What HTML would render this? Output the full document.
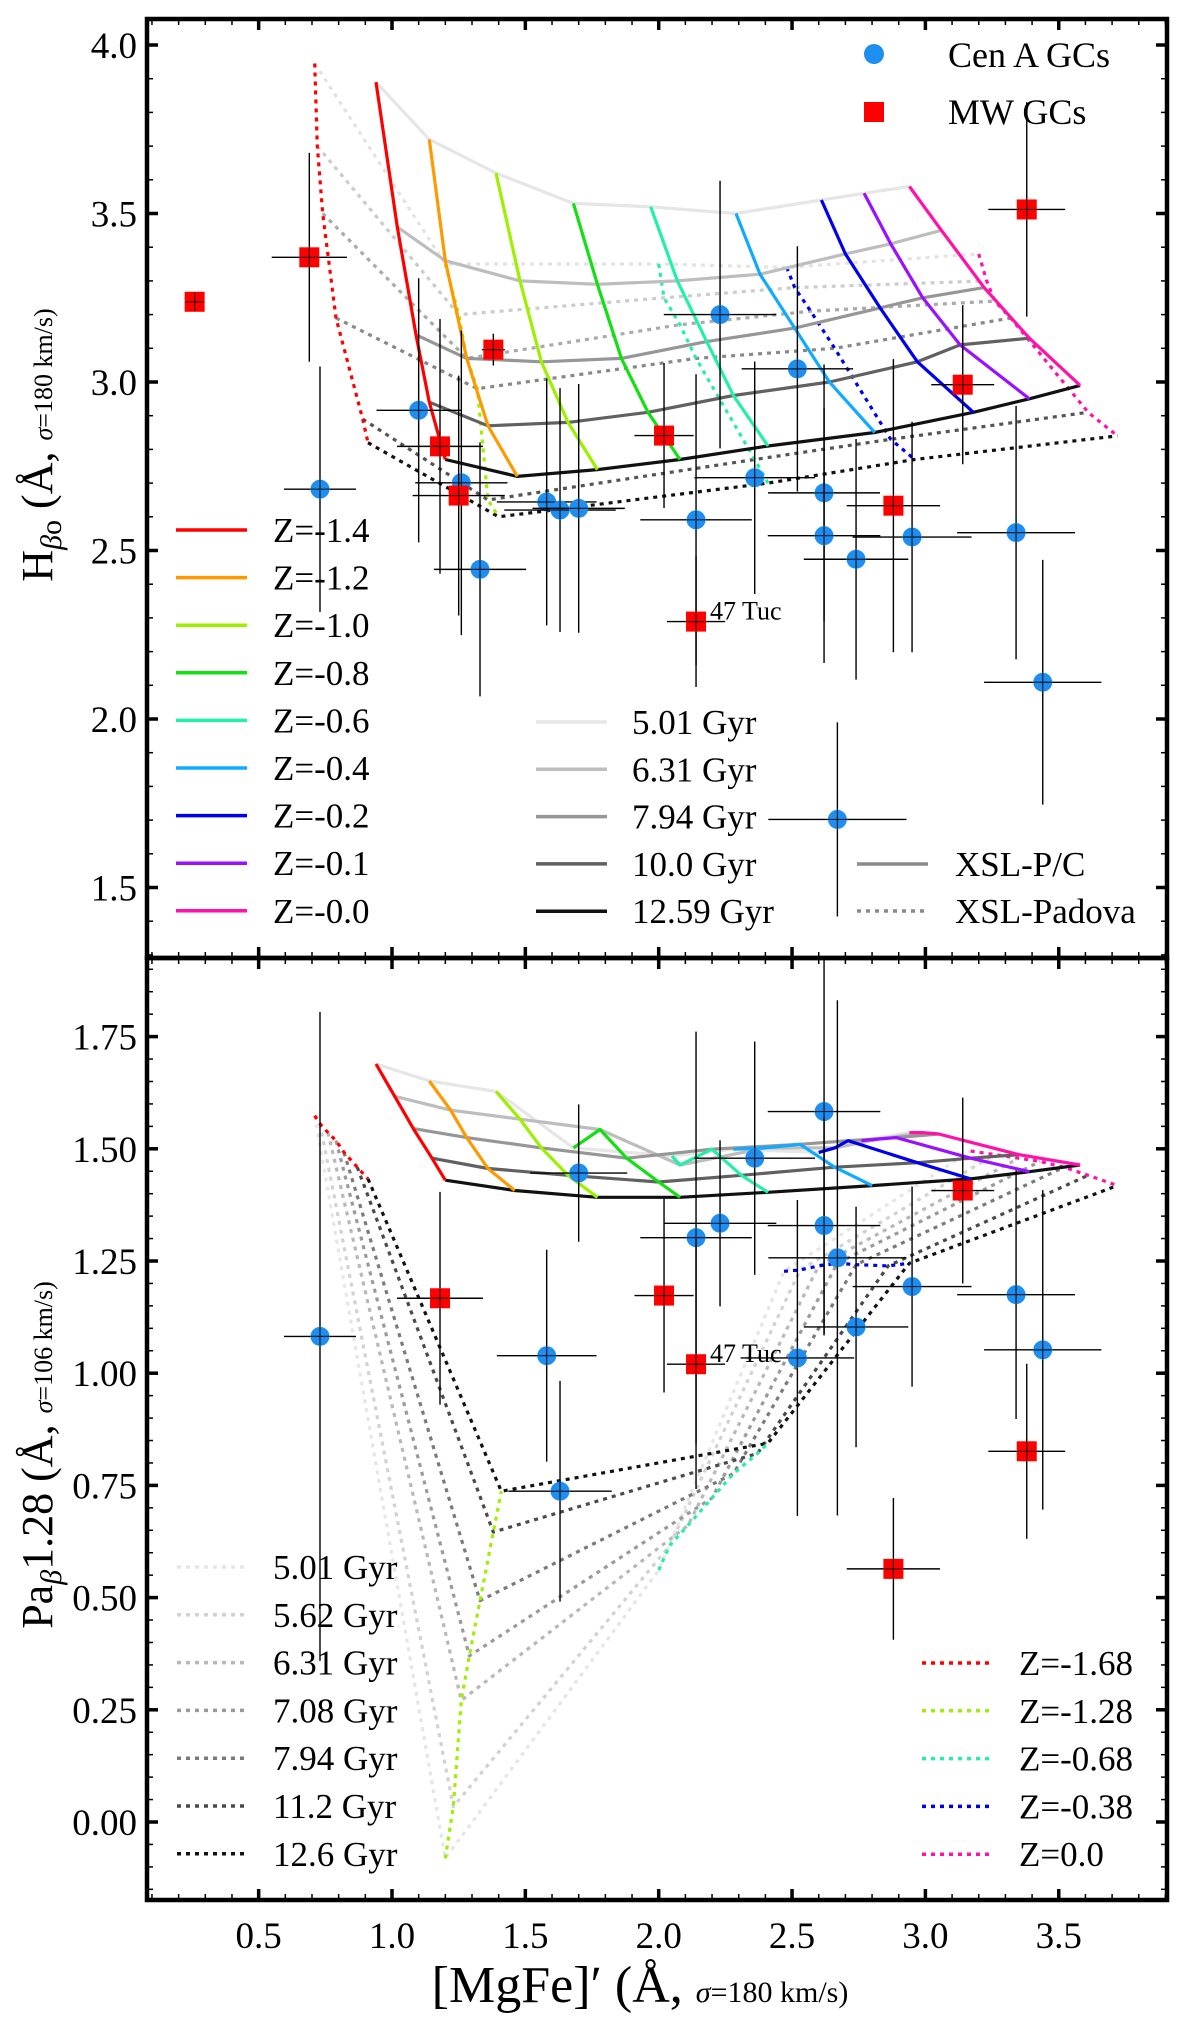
<!DOCTYPE html>
<html><head><meta charset="utf-8">
<style>
html,body{margin:0;padding:0;background:#fff;}
svg{display:block;font-family:"Liberation Serif",serif;}
</style></head>
<body>
<svg id="fig" width="1200" height="2025" viewBox="0 0 1200 2025" xmlns="http://www.w3.org/2000/svg">
<defs>
<clipPath id="clipTop"><rect x="147" y="19" width="1020" height="939"/></clipPath>
<clipPath id="clipBot"><rect x="147" y="958" width="1020" height="942"/></clipPath>
</defs>
<g id="topPanel"></g>
<g id="botPanel"></g>
<g id="framePanel"></g>
<text transform="translate(52,445) rotate(-90)" text-anchor="middle" font-size="44">H<tspan font-size="30" dy="9" font-style="italic">β</tspan><tspan font-size="30">o</tspan><tspan dy="-9"> (Å, </tspan><tspan font-size="26" font-style="italic">σ</tspan><tspan font-size="26">=180 km/s)</tspan></text>
<text transform="translate(52,1455) rotate(-90)" text-anchor="middle" font-size="44">Pa<tspan font-size="30" dy="9" font-style="italic">β</tspan><tspan dy="-9">1.28 (Å, </tspan><tspan font-size="26" font-style="italic">σ</tspan><tspan font-size="26">=106 km/s)</tspan></text>
<text x="640" y="2002" text-anchor="middle" font-size="52">[MgFe]′ (Å, <tspan font-size="30" font-style="italic">σ</tspan><tspan font-size="30">=180 km/s)</tspan></text>
</svg>
<script>
// ---------- data ----------
const zLabelsTop = ["Z=-1.4","Z=-1.2","Z=-1.0","Z=-0.8","Z=-0.6","Z=-0.4","Z=-0.2","Z=-0.1","Z=-0.0"];
const zColors = ["#ff0000","#ff9900","#9cf000","#11e011","#22f0aa","#11aaff","#0000ee","#9911ff","#ff11aa"];
const ageLabelsTop = ["5.01 Gyr","6.31 Gyr","7.94 Gyr","10.0 Gyr","12.59 Gyr"];
const ageColorsTop = ["#e6e6e6","#bdbdbd","#969696","#616161","#111111"];
const topPCx = [
 [0.94,1.02,1.09,1.14,1.20],[1.14,1.20,1.28,1.36,1.47],[1.39,1.48,1.56,1.66,1.77],
 [1.68,1.77,1.86,1.96,2.08],[1.97,2.07,2.18,2.28,2.41],[2.29,2.38,2.51,2.64,2.81],
 [2.61,2.70,2.83,2.97,3.18],[2.77,2.87,2.99,3.13,3.39],[2.94,3.06,3.22,3.39,3.58]];
const topPCy = [
 [3.89,3.46,3.14,2.94,2.77],[3.72,3.36,3.07,2.87,2.72],[3.62,3.30,3.06,2.88,2.74],
 [3.53,3.29,3.07,2.91,2.77],[3.52,3.30,3.12,2.96,2.81],[3.50,3.32,3.16,3.00,2.85],
 [3.54,3.38,3.22,3.06,2.91],[3.56,3.41,3.25,3.11,2.95],[3.58,3.45,3.28,3.13,2.99]];
const topPadColors = ["#ff0000","#9cf000","#22f0aa","#0000ee","#ff11aa"];
const topPadAgeColors = ["#e3e3e3","#cccccc","#aaaaaa","#888888","#555555","#111111"];
const topPadx = [
 [0.71,0.72,0.74,0.79,0.89,0.91],[1.20,1.25,1.28,1.32,1.36,1.40],[2.00,2.02,2.08,2.14,2.36,2.41],
 [2.48,2.51,2.57,2.66,2.87,2.96],[3.20,3.23,3.26,3.32,3.61,3.72]];
const topPady = [
 [3.945,3.70,3.50,3.19,2.89,2.82],[3.35,3.20,3.07,2.98,2.65,2.60],[3.35,3.25,3.17,3.07,2.77,2.70],
 [3.34,3.28,3.21,3.10,2.83,2.77],[3.38,3.30,3.24,3.19,2.91,2.84]];
const cenTopX = [0.73,1.10,1.26,1.33,1.58,1.63,1.70,2.14,2.23,2.36,2.52,2.62,2.62,2.74,2.95,3.34,3.44,2.67];
const cenTopY = [2.682,2.916,2.701,2.444,2.644,2.620,2.625,2.591,3.200,2.716,3.039,2.671,2.544,2.474,2.540,2.553,2.109,1.702];
const cenTopXe = [0.135,0.158,0.173,0.173,0.187,0.209,0.173,0.209,0.211,0.226,0.209,0.210,0.211,0.196,0.223,0.221,0.220,0.259];
const cenTopYe = [0.364,0.392,0.452,0.377,0.366,0.362,0.369,0.432,0.397,0.345,0.364,0.381,0.378,0.357,0.342,0.376,0.363,0.288];
const mwTopX = [0.26,0.69,1.18,1.25,1.38,2.02,2.14,2.88,3.14,3.38];
const mwTopY = [3.238,3.370,2.809,2.663,3.096,2.841,2.289,2.633,2.992,3.512];
const mwTopXe = [0.02,0.141,0.161,0.173,0.043,0.111,0.109,0.175,0.118,0.144];
const mwTopYe = [0.022,0.310,0.378,0.356,0.047,0.215,0.194,0.435,0.236,0.318];
const botPCx = [
 [0.94,1.01,1.08,1.15,1.20],[1.14,1.22,1.28,1.36,1.46],[1.39,1.48,1.56,1.66,1.77],
 [1.68,1.78,1.88,2.00,2.08],[2.05,2.08,2.20,2.31,2.41],[2.28,2.40,2.53,2.66,2.80],
 [2.60,2.66,2.71,2.97,3.17],[2.76,2.83,2.89,3.17,3.39],[2.94,2.99,3.05,3.35,3.58]];
const botPCy = [
 [1.689,1.617,1.545,1.479,1.430],[1.651,1.586,1.525,1.456,1.407],[1.628,1.566,1.502,1.441,1.392],
 [1.502,1.543,1.479,1.426,1.392],[1.484,1.464,1.499,1.441,1.403],[1.499,1.502,1.510,1.459,1.418],
 [1.492,1.502,1.518,1.469,1.433],[1.518,1.522,1.525,1.479,1.449],[1.536,1.536,1.533,1.487,1.464]];
const zLabelsBot = ["Z=-1.68","Z=-1.28","Z=-0.68","Z=-0.38","Z=0.0"];
const ageLabelsBot = ["5.01 Gyr","5.62 Gyr","6.31 Gyr","7.08 Gyr","7.94 Gyr","11.2 Gyr","12.6 Gyr"];
const botPadAgeColors = ["#e6e6e6","#d2d2d2","#b8b8b8","#9a9a9a","#7a7a7a","#4a4a4a","#111111"];
const botPadx = [
 [0.71,0.73,0.76,0.79,0.82,0.87,0.91],[1.20,1.23,1.26,1.29,1.33,1.38,1.41],
 [2.00,2.04,2.11,2.20,2.28,2.37,2.41],[2.47,2.53,2.60,2.67,2.74,2.86,2.94],
 [3.17,3.26,3.35,3.43,3.52,3.61,3.72]];
const botPady = [
 [1.574,1.556,1.536,1.518,1.492,1.459,1.433],[-0.081,0.034,0.271,0.370,0.493,0.646,0.737],
 [0.561,0.615,0.661,0.722,0.776,0.821,0.844],[1.227,1.230,1.239,1.245,1.242,1.239,1.245],
 [1.495,1.487,1.479,1.472,1.459,1.441,1.418]];
const cenBotX = [0.73,1.70,1.58,1.63,2.14,2.23,2.36,2.62,2.62,2.67,2.52,2.74,2.95,3.34,3.44];
const cenBotY = [1.082,1.446,1.039,0.737,1.302,1.334,1.479,1.583,1.329,1.257,1.034,1.103,1.193,1.175,1.052];
const cenBotXe = [0.135,0.182,0.187,0.194,0.209,0.211,0.226,0.211,0.211,0.259,0.213,0.196,0.223,0.221,0.220];
const cenBotYe = [0.723,0.153,0.236,0.246,0.459,0.185,0.260,0.499,0.241,0.574,0.352,0.268,0.223,0.277,0.356];
const mwBotX = [1.18,2.02,2.14,2.88,3.14,3.38];
const mwBotY = [1.167,1.173,1.020,0.564,1.407,0.826];
const mwBotXe = [0.161,0.111,0.109,0.175,0.118,0.144];
const mwBotYe = [0.237,0.216,0.278,0.158,0.207,0.195];
const xTicks = [0.5,1.0,1.5,2.0,2.5,3.0,3.5];
const yTicksTop = [1.5,2.0,2.5,3.0,3.5,4.0];
const yTicksBot = [0.00,0.25,0.50,0.75,1.00,1.25,1.50,1.75];

// ---------- scales ----------
const L=147,R=1167,T=19,M=958,B=1900;
const X = v => 125.3 + 266.7*v;
const Yt = v => 45 + (4 - v)*337;
const Yb = v => 1822 - 448.8*v;
const NS="http://www.w3.org/2000/svg";
function mk(tag, parent, attrs){const e=document.createElementNS(NS,tag);for(const k in attrs)e.setAttribute(k,attrs[k]);parent.appendChild(e);return e;}

const topG=document.getElementById('topPanel'), botG=document.getElementById('botPanel'), frameG=document.getElementById('framePanel');
const tc=mk('g',topG,{'clip-path':'url(#clipTop)'});
const bc=mk('g',botG,{'clip-path':'url(#clipBot)'});
function pl(g,xs,ys,Y,color,dotted,w){
  const pts=xs.map((x,i)=>X(x).toFixed(1)+','+Y(ys[i]).toFixed(1)).join(' ');
  const e=mk('polyline',g,{points:pts,fill:'none',stroke:color,'stroke-width':w||3.2,'stroke-linejoin':'round'});
  if(dotted) e.setAttribute('stroke-dasharray','4,5');
  return e;
}
for(let a=0;a<6;a++){
  const e=pl(tc,topPadx.map(r=>r[a]),topPady.map(r=>r[a]),Yt,topPadAgeColors[a],true);
  
  
}
for(let z=0;z<5;z++){
  const e=pl(tc,topPadx[z],topPady[z],Yt,topPadColors[z],true);
  
  
}
for(let a=0;a<5;a++){
  const e=pl(tc,topPCx.map(r=>r[a]),topPCy.map(r=>r[a]),Yt,ageColorsTop[a],false);
  
  
}
for(let z=0;z<9;z++){
  const e=pl(tc,topPCx[z],topPCy[z],Yt,zColors[z],false);
  
  
}
for(let a=0;a<7;a++){
  const e=pl(bc,botPadx.map(r=>r[a]),botPady.map(r=>r[a]),Yb,botPadAgeColors[a],true);
  
  
}
for(let z=0;z<5;z++){
  const e=pl(bc,botPadx[z],botPady[z],Yb,topPadColors[z],true);
  
  
}
for(let a=0;a<5;a++){
  const e=pl(bc,botPCx.map(r=>r[a]),botPCy.map(r=>r[a]),Yb,ageColorsTop[a],false);
  
  
}
for(let z=0;z<9;z++){
  const e=pl(bc,botPCx[z],botPCy[z],Yb,zColors[z],false);
  
  
}
function pts(g,xs,ys,xe,ye,Y,type){
  for(let i=0;i<xs.length;i++){
    const cx=X(xs[i]),cy=Y(ys[i]);
    const eb=mk('path',g,{d:`M${X(xs[i]-xe[i])},${cy}H${X(xs[i]+xe[i])}M${cx},${Y(ys[i]-ye[i])}V${Y(ys[i]+ye[i])}`,stroke:'#000','stroke-width':1.4,fill:'none'});
    
    
    let m;
    if(type==='c'){m=mk('circle',g,{cx:cx,cy:cy,r:9.5,fill:'#1e8ff0'});}
    else{m=mk('rect',g,{x:cx-10,y:cy-10,width:20,height:20,fill:'#ff0000'});}
    
    const eb2=mk('path',g,{d:`M${cx-9},${cy}H${cx+9}M${cx},${cy-9}V${cy+9}`,stroke:'#000','stroke-width':1.2,opacity:0.8});
    
    
  }
}
pts(tc,cenTopX,cenTopY,cenTopXe,cenTopYe,Yt,'c');
pts(tc,mwTopX,mwTopY,mwTopXe,mwTopYe,Yt,'s');
pts(bc,cenBotX,cenBotY,cenBotXe,cenBotYe,Yb,'c');
pts(bc,mwBotX,mwBotY,mwBotXe,mwBotYe,Yb,'s');
function txt(g,x,y,s,size,anchor,name){const t=mk('text',g,{x:x,y:y,'font-size':size,'text-anchor':anchor||'start'});t.textContent=s;return t;}
txt(topG,X(2.14)+14,Yt(2.289)-2,'47 Tuc',26,'start','tuc47-label-top');
txt(botG,X(2.14)+14,Yb(1.020)-2,'47 Tuc',26,'start','tuc47-label-bottom');

for(let i=0;i<9;i++){
  const y=530+i*47.6;
  const l=mk('line',topG,{x1:176,y1:y,x2:247,y2:y,stroke:zColors[i],'stroke-width':3.5});
  
  
  txt(topG,273,y+12,zLabelsTop[i],35,'start','legend-z-label');
}
for(let i=0;i<5;i++){
  const y=722+i*47.3;
  const l=mk('line',topG,{x1:536,y1:y,x2:607,y2:y,stroke:ageColorsTop[i],'stroke-width':3.5});
  
  
  txt(topG,632,y+12,ageLabelsTop[i],35,'start','legend-age-label');
}
{
  let l=mk('line',topG,{x1:857,y1:864,x2:928,y2:864,stroke:'#8a8a8a','stroke-width':3.5});
  
  
  txt(topG,955,876,'XSL-P/C',35,'start','legend-pc-label');
  l=mk('line',topG,{x1:857,y1:911,x2:928,y2:911,stroke:'#8a8a8a','stroke-width':3.5,'stroke-dasharray':'4,5'});
  
  
  txt(topG,955,923,'XSL-Padova',35,'start','legend-padova-label');
  let c=mk('circle',topG,{cx:874,cy:54,r:10,fill:'#1e8ff0'});
  
  
  txt(topG,948,67,'Cen A GCs',36,'start','legend-cen-a-label');
  c=mk('rect',topG,{x:864,y:102,width:20,height:20,fill:'#ff0000'});
  
  
  txt(topG,948,124,'MW GCs',36,'start','legend-mw-label');
}
for(let i=0;i<7;i++){
  const y=1567+i*47.8;
  const l=mk('line',botG,{x1:177,y1:y,x2:247,y2:y,stroke:botPadAgeColors[i],'stroke-width':3.5,'stroke-dasharray':'4,5'});
  
  
  txt(botG,273,y+12,ageLabelsBot[i],35,'start','legend-bottom-age-label');
}
for(let i=0;i<5;i++){
  const y=1663+i*47.8;
  const l=mk('line',botG,{x1:922,y1:y,x2:991,y2:y,stroke:topPadColors[i],'stroke-width':3.5,'stroke-dasharray':'4,5'});
  
  
  txt(botG,1019,y+12,zLabelsBot[i],35,'start','legend-bottom-z-label');
}

function tick(x1,y1,x2,y2,w){const l=mk('line',frameG,{x1:x1,y1:y1,x2:x2,y2:y2,stroke:'#000','stroke-width':w});}
for(const [ty,by] of [[T,M],[M,B]]){
  for(let k=1;k<=39;k++){
    const v=k/10; const x=X(v); const major=(k%5===0);
    const len=major?11:6, w=major?3.5:1.5;
    tick(x,ty,x,ty+len,w); tick(x,by,x,by-len,w);
  }
}
for(let k=13;k<=40;k++){
  const v=k/10; const y=Yt(v); const major=(k%5===0);
  const len=major?11:6,w=major?3.5:1.5;
  tick(L,y,L+len,y,w); tick(R,y,R-len,y,w);
}
for(let k=-3;k<=38;k++){
  const v=k/20; const y=Yb(v); const major=(((k%5)+5)%5===0);
  const len=major?11:6,w=major?3.5:1.5;
  tick(L,y,L+len,y,w); tick(R,y,R-len,y,w);
}
const fr1=mk('rect',frameG,{x:L,y:T,width:R-L,height:M-T,fill:'none',stroke:'#000','stroke-width':4.5});


const fr2=mk('rect',frameG,{x:L,y:M,width:R-L,height:B-M,fill:'none',stroke:'#000','stroke-width':4.5});


xTicks.forEach(v=>txt(frameG,X(v),1948,v.toFixed(1),37,'middle','x-tick-label'));
yTicksTop.forEach(v=>txt(frameG,137,Yt(v)+13,v.toFixed(1),37,'end','top-y-tick-label'));
yTicksBot.forEach(v=>txt(frameG,137,Yb(v)+13,v.toFixed(2),37,'end','bottom-y-tick-label'));
</script>
</body></html>
